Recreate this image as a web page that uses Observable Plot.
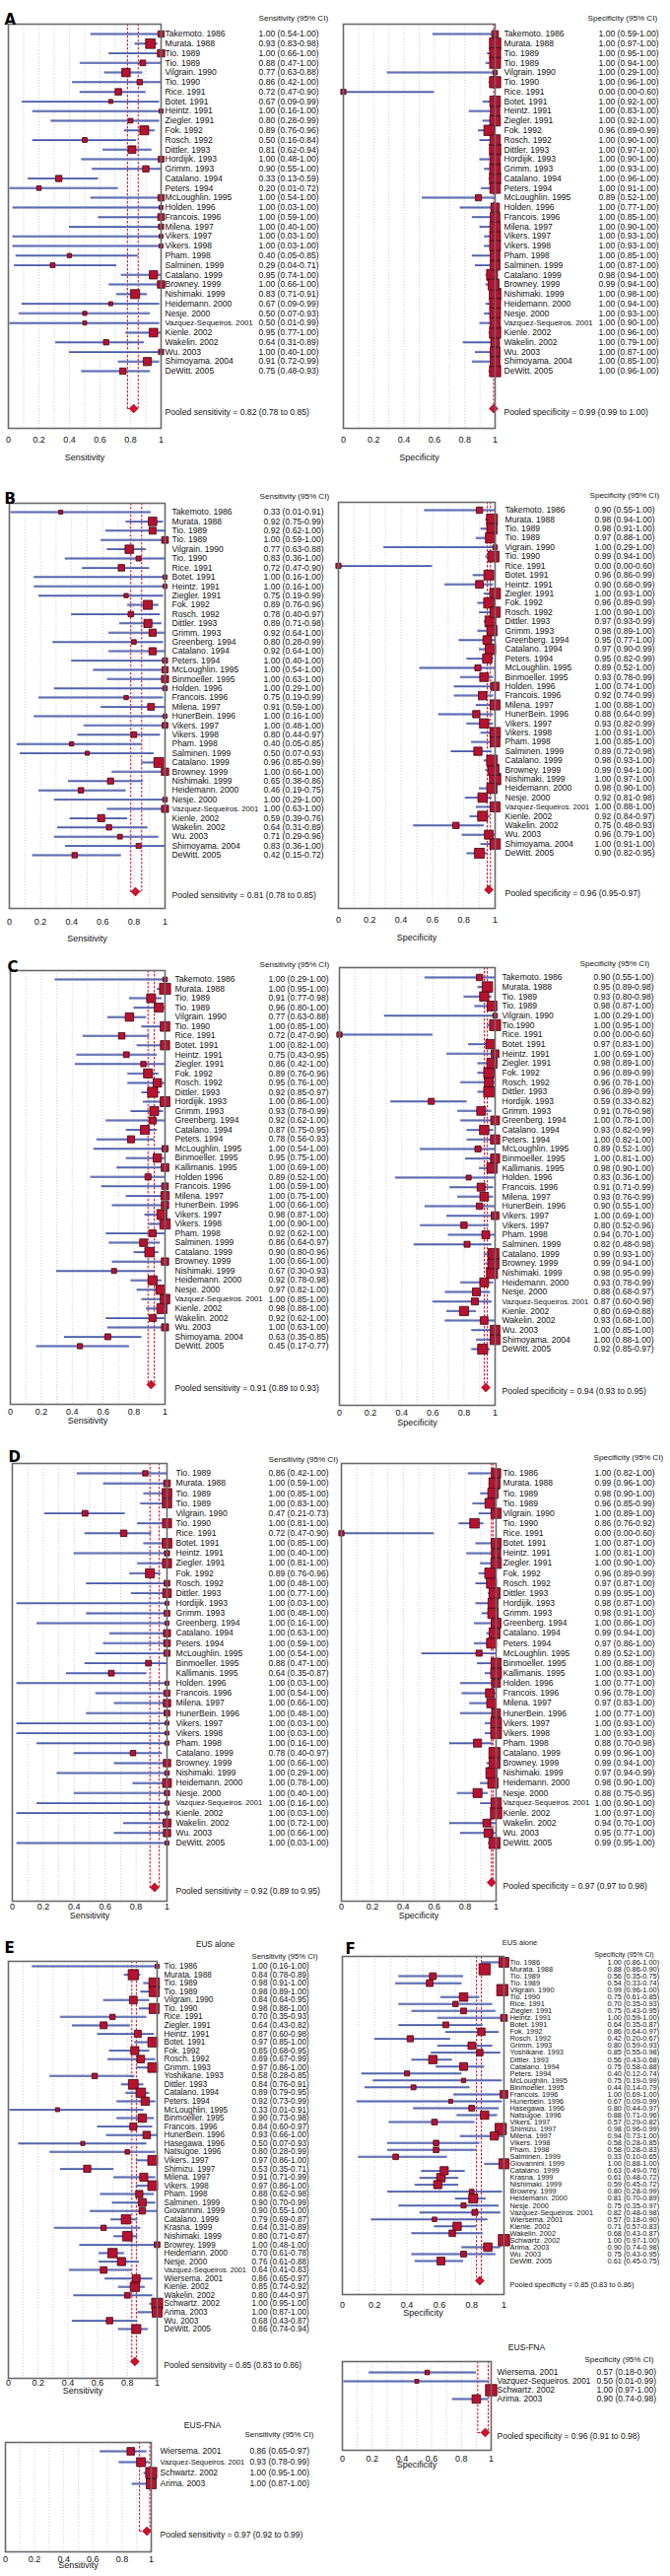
<!DOCTYPE html>
<html><head><meta charset="utf-8">
<script src="https://cdn.jsdelivr.net/npm/d3@7"></script>
<script src="https://cdn.jsdelivr.net/npm/@observablehq/plot@0.6"></script>
<style>
body{margin:0;background:#fff;}
#root{position:relative;width:680px;height:2613px;background:#fff;overflow:hidden;}
#root svg{position:absolute;overflow:visible;}
</style></head><body><div id="root"></div>
<script>
// ---------- DATA ----------
const namesA = ["Takemoto. 1986","Murata. 1988","Tio. 1989","Tio. 1989","Vilgrain. 1990","Tio. 1990","Rice. 1991","Botet. 1991","Heintz. 1991","Ziegler. 1991","Fok. 1992","Rosch. 1992","Dittler. 1993","Hordijik. 1993","Grimm. 1993","Catalano. 1994","Peters. 1994","McLoughlin. 1995","Holden. 1996","Francois. 1996","Milena. 1997","Vikers. 1997","Vikers. 1998","Pham. 1998","Salminen. 1999","Catalano. 1999","Browney. 1999","Nishimaki. 1999","Heidemann. 2000","Nesje. 2000","Vazquez-Sequeiros. 2001","Kienle. 2002","Wakelin. 2002","Wu. 2003","Shimoyama. 2004","DeWitt. 2005"];
const sensA = [[1.00,0.54,1.00],[0.93,0.83,0.98],[1.00,0.66,1.00],[0.88,0.47,1.00],[0.77,0.63,0.88],[0.86,0.42,1.00],[0.72,0.47,0.90],[0.67,0.09,0.99],[1.00,0.16,1.00],[0.80,0.28,0.99],[0.89,0.76,0.96],[0.50,0.16,0.84],[0.81,0.62,0.94],[1.00,0.48,1.00],[0.90,0.55,1.00],[0.33,0.13,0.59],[0.20,0.01,0.72],[1.00,0.54,1.00],[1.00,0.03,1.00],[1.00,0.59,1.00],[1.00,0.40,1.00],[1.00,0.03,1.00],[1.00,0.03,1.00],[0.40,0.05,0.85],[0.29,0.04,0.71],[0.95,0.74,1.00],[1.00,0.66,1.00],[0.83,0.71,0.91],[0.67,0.09,0.99],[0.50,0.07,0.93],[0.50,0.01,0.99],[0.95,0.77,1.00],[0.64,0.31,0.89],[1.00,0.40,1.00],[0.91,0.72,0.99],[0.75,0.48,0.93]];
const specA = [[1.00,0.59,1.00],[1.00,0.97,1.00],[1.00,0.95,1.00],[1.00,0.94,1.00],[1.00,0.29,1.00],[1.00,0.96,1.00],[0.00,0.00,0.60],[1.00,0.92,1.00],[1.00,0.83,1.00],[1.00,0.92,1.00],[0.96,0.89,0.99],[1.00,0.90,1.00],[1.00,0.97,1.00],[1.00,0.90,1.00],[1.00,0.93,1.00],[1.00,0.96,1.00],[1.00,0.91,1.00],[0.89,0.52,1.00],[1.00,0.77,1.00],[1.00,0.85,1.00],[1.00,0.90,1.00],[1.00,0.93,1.00],[1.00,0.93,1.00],[1.00,0.85,1.00],[1.00,0.87,1.00],[0.98,0.94,1.00],[0.99,0.94,1.00],[1.00,0.98,1.00],[1.00,0.94,1.00],[1.00,0.93,1.00],[1.00,0.90,1.00],[1.00,0.96,1.00],[1.00,0.79,1.00],[1.00,0.87,1.00],[1.00,0.85,1.00],[1.00,0.96,1.00]];
const pooledA = {sens:[0.82,0.78,0.85], spec:[0.99,0.99,1.00]};

const namesBL = ["Takemoto. 1986","Murata. 1988","Tio. 1989","Tio. 1989","Vilgrain. 1990","Tio. 1990","Rice. 1991","Botet. 1991","Heintz. 1991","Ziegler. 1991","Fok. 1992","Rosch. 1992","Dittler. 1993","Grimm. 1993","Greenberg. 1994","Catalano. 1994","Peters. 1994","McLoughlin. 1995","Binmoeller. 1995","Holden. 1996","Francois. 1996","Milena. 1997","HunerBein. 1996","Vikers. 1997","Vikers. 1998","Pham. 1998","Salminen. 1999","Catalano. 1999","Browney. 1999","Nishimaki. 1999","Heidemann. 2000","Nesje. 2000","Vazquez-Sequeiros. 2001","Kienle. 2002","Wakelin. 2002","Wu. 2003","Shimoyama. 2004","DeWitt. 2005"];
const namesBR = namesBL.map((d,i)=> i===4 ? "Vigrain. 1990" : d);
const sensB = [[0.33,0.01,0.91],[0.92,0.75,0.99],[0.92,0.62,1.00],[1.00,0.59,1.00],[0.77,0.63,0.88],[0.83,0.36,1.00],[0.72,0.47,0.90],[1.00,0.16,1.00],[1.00,0.16,1.00],[0.75,0.19,0.99],[0.89,0.76,0.96],[0.78,0.40,0.97],[0.89,0.71,0.98],[0.92,0.64,1.00],[0.80,0.28,0.99],[0.92,0.64,1.00],[1.00,0.40,1.00],[1.00,0.54,1.00],[1.00,0.63,1.00],[1.00,0.29,1.00],[0.75,0.19,0.99],[0.91,0.59,1.00],[1.00,0.16,1.00],[1.00,0.48,1.00],[0.80,0.44,0.97],[0.40,0.05,0.85],[0.50,0.07,0.93],[0.96,0.85,0.99],[1.00,0.66,1.00],[0.65,0.38,0.86],[0.46,0.19,0.75],[1.00,0.29,1.00],[1.00,0.63,1.00],[0.59,0.39,0.76],[0.64,0.31,0.89],[0.71,0.29,0.96],[0.83,0.36,1.00],[0.42,0.15,0.72]];
const specB = [[0.90,0.55,1.00],[0.98,0.94,1.00],[0.98,0.91,1.00],[0.97,0.88,1.00],[1.00,0.29,1.00],[0.99,0.94,1.00],[0.00,0.00,0.60],[0.96,0.86,0.99],[0.90,0.68,0.99],[1.00,0.93,1.00],[0.96,0.89,0.99],[1.00,0.90,1.00],[0.97,0.93,0.99],[0.98,0.89,1.00],[0.95,0.77,1.00],[0.97,0.90,0.99],[0.95,0.82,0.99],[0.89,0.52,1.00],[0.93,0.78,0.99],[1.00,0.74,1.00],[0.92,0.74,0.99],[1.00,0.88,1.00],[0.88,0.64,0.99],[0.93,0.82,0.99],[1.00,0.91,1.00],[1.00,0.85,1.00],[0.89,0.72,0.98],[0.98,0.93,1.00],[0.99,0.94,1.00],[1.00,0.97,1.00],[0.98,0.90,1.00],[0.92,0.81,0.98],[1.00,0.88,1.00],[0.92,0.84,0.97],[0.75,0.48,0.93],[0.96,0.79,1.00],[1.00,0.91,1.00],[0.90,0.82,0.95]];
const pooledB = {sens:[0.81,0.78,0.85], spec:[0.96,0.95,0.97]};

const namesCL = ["Takemoto. 1986","Murata. 1988","Tio. 1989","Tio. 1989","Vilgrain. 1990","Tio. 1990","Rice. 1991","Botet. 1991","Heintz. 1991","Ziegler. 1991","Fok. 1992","Rosch. 1992","Dittler. 1993","Hordijik. 1993","Grimm. 1993","Greenberg. 1994","Catalano. 1994","Peters. 1994","McLoughlin. 1995","Binmoeller. 1995","Kallimanis. 1995","Holden 1996","Francois. 1996","Milena. 1997","HunerBein. 1996","Vikers. 1997","Vikers. 1998","Pham. 1998","Salminen. 1999","Catalano. 1999","Browney. 1999","Nishimaki. 1999","Heidemann. 2000","Nesje. 2000","Vazquez-Sequeiros. 2001","Kienle. 2002","Wakelin. 2002","Wu. 2003","Shimoyama. 2004","DeWitt. 2005"];
const namesCR = namesCL.map((d,i)=> i===5 ? "Tio.1990" : i===21 ? "Holden. 1996" : i===26 ? "Vikers. 1997" : d);
const sensC = [[1.00,0.29,1.00],[1.00,0.95,1.00],[0.91,0.77,0.98],[0.96,0.80,1.00],[0.77,0.63,0.88],[1.00,0.85,1.00],[0.72,0.47,0.90],[1.00,0.82,1.00],[0.75,0.43,0.95],[0.86,0.42,1.00],[0.89,0.76,0.96],[0.95,0.76,1.00],[0.92,0.85,0.97],[1.00,0.86,1.00],[0.93,0.78,0.99],[0.92,0.62,1.00],[0.87,0.75,0.95],[0.78,0.56,0.93],[1.00,0.54,1.00],[0.95,0.75,1.00],[1.00,0.69,1.00],[0.89,0.52,1.00],[1.00,0.59,1.00],[1.00,0.75,1.00],[1.00,0.66,1.00],[0.98,0.87,1.00],[1.00,0.90,1.00],[0.92,0.62,1.00],[0.86,0.64,0.97],[0.90,0.80,0.96],[1.00,0.66,1.00],[0.67,0.30,0.93],[0.92,0.78,0.98],[0.97,0.82,1.00],[1.00,0.85,1.00],[0.98,0.88,1.00],[0.92,0.62,1.00],[1.00,0.63,1.00],[0.63,0.35,0.85],[0.45,0.17,0.77]];
const specC = [[0.90,0.55,1.00],[0.95,0.89,0.98],[0.93,0.80,0.98],[0.98,0.87,1.00],[1.00,0.29,1.00],[1.00,0.95,1.00],[0.00,0.00,0.60],[0.97,0.83,1.00],[1.00,0.69,1.00],[0.98,0.89,1.00],[0.96,0.89,0.99],[0.96,0.78,1.00],[0.96,0.89,0.99],[0.59,0.33,0.82],[0.91,0.76,0.98],[1.00,0.78,1.00],[0.93,0.82,0.99],[1.00,0.82,1.00],[0.89,0.52,1.00],[1.00,0.81,1.00],[0.98,0.90,1.00],[0.83,0.36,1.00],[0.91,0.71,0.99],[0.93,0.76,0.99],[0.90,0.55,1.00],[1.00,0.69,1.00],[0.80,0.52,0.96],[0.94,0.70,1.00],[0.82,0.48,0.98],[0.99,0.93,1.00],[0.99,0.94,1.00],[0.98,0.95,0.99],[0.93,0.78,0.99],[0.88,0.68,0.97],[0.87,0.60,0.98],[0.80,0.69,0.88],[0.93,0.68,1.00],[1.00,0.85,1.00],[1.00,0.88,1.00],[0.92,0.85,0.97]];
const pooledC = {sens:[0.91,0.89,0.93], spec:[0.94,0.93,0.95]};

const namesDL = ["Tio. 1989","Murata. 1988","Tio. 1989","Tio. 1989","Vilgrain. 1990","Tio. 1990","Rice. 1991","Botet. 1991","Heintz. 1991","Ziegler. 1991","Fok. 1992","Rosch. 1992","Dittler. 1993","Hordijik. 1993","Grimm. 1993","Greenberg. 1994","Catalano. 1994","Peters. 1994","McLoughlin. 1995","Binmoeller. 1995","Kallimanis. 1995","Holden. 1996","Francois. 1996","Milena. 1997","HunerBein. 1996","Vikers. 1997","Vikers. 1998","Pham. 1998","Catalano. 1999","Browney. 1999","Nishimaki. 1999","Heidemann. 2000","Nesje. 2000","Vazquez-Sequeiros. 2001","Kienle. 2002","Wakelin. 2002","Wu. 2003","DeWitt. 2005"];
const namesDR = namesDL.map((d,i)=> i===0 ? "Tio. 1986" : d);
const sensD = [[0.86,0.42,1.00],[1.00,0.59,1.00],[1.00,0.85,1.00],[1.00,0.83,1.00],[0.47,0.21,0.73],[1.00,0.81,1.00],[0.72,0.47,0.90],[1.00,0.85,1.00],[1.00,0.40,1.00],[1.00,0.81,1.00],[0.89,0.76,0.96],[1.00,0.48,1.00],[1.00,0.77,1.00],[1.00,0.03,1.00],[1.00,0.48,1.00],[1.00,0.16,1.00],[1.00,0.63,1.00],[1.00,0.59,1.00],[1.00,0.54,1.00],[0.88,0.47,1.00],[0.64,0.35,0.87],[1.00,0.03,1.00],[1.00,0.54,1.00],[1.00,0.66,1.00],[1.00,0.48,1.00],[1.00,0.03,1.00],[1.00,0.03,1.00],[1.00,0.16,1.00],[0.78,0.40,0.97],[1.00,0.66,1.00],[1.00,0.29,1.00],[1.00,0.78,1.00],[1.00,0.40,1.00],[1.00,0.16,1.00],[1.00,0.03,1.00],[1.00,0.72,1.00],[1.00,0.66,1.00],[1.00,0.03,1.00]];
const specD = [[1.00,0.82,1.00],[0.99,0.96,1.00],[0.98,0.90,1.00],[0.96,0.85,0.99],[1.00,0.89,1.00],[0.86,0.76,0.92],[0.00,0.00,0.60],[1.00,0.87,1.00],[1.00,0.81,1.00],[1.00,0.90,1.00],[0.96,0.89,0.99],[0.97,0.87,1.00],[0.99,0.95,1.00],[0.98,0.87,1.00],[0.98,0.91,1.00],[1.00,0.86,1.00],[0.99,0.94,1.00],[0.97,0.86,1.00],[0.89,0.52,1.00],[1.00,0.88,1.00],[1.00,0.93,1.00],[1.00,0.77,1.00],[0.96,0.78,1.00],[0.97,0.83,1.00],[1.00,0.77,1.00],[1.00,0.93,1.00],[1.00,0.93,1.00],[0.88,0.70,0.98],[0.99,0.96,1.00],[0.99,0.94,1.00],[0.97,0.94,0.99],[0.98,0.90,1.00],[0.88,0.75,0.95],[1.00,0.90,1.00],[1.00,0.97,1.00],[0.94,0.70,1.00],[0.95,0.77,1.00],[0.99,0.95,1.00]];
const pooledD = {sens:[0.92,0.89,0.95], spec:[0.97,0.97,0.98]};

const namesE = ["Tio. 1986","Murata. 1988","Tio. 1989","Tio. 1989","Vilgrain. 1990","Tio. 1990","Rice. 1991","Ziegler. 1991","Heintz. 1991","Botet. 1991","Fok. 1992","Rosch. 1992","Grimm. 1993","Yoshikane. 1993","Dittler. 1993","Catalano. 1994","Peters. 1994","McLoughlin. 1995","Binmoeller. 1995","Francois. 1996","HunerBein. 1996","Hasegawa. 1996","Natsugoe. 1996","Vikers. 1997","Shimizu. 1997","Milena. 1997","Vikers. 1998","Pham. 1998","Salminen. 1999","Giovannini. 1999","Catalano. 1999","Krasna. 1999","Nishimaki. 1999","Browrey. 1999","Heidemann. 2000","Nesje. 2000","Vazquez-Sequeiros. 2001","Wiersema. 2001","Kienle. 2002","Wakelin. 2002","Schwartz. 2002","Arima. 2003","Wu. 2003","DeWitt. 2005"];
const namesF = namesE.map((d,i)=> i===20 ? "Hunerbein. 1996" : d);
const sensEUS = [[1.00,0.16,1.00],[0.84,0.78,0.89],[0.98,0.91,1.00],[0.98,0.89,1.00],[0.84,0.64,0.95],[0.98,0.88,1.00],[0.70,0.35,0.93],[0.64,0.43,0.82],[0.87,0.60,0.98],[0.97,0.85,1.00],[0.85,0.68,0.95],[0.89,0.67,0.99],[0.97,0.86,1.00],[0.58,0.28,0.85],[0.84,0.76,0.91],[0.89,0.79,0.95],[0.92,0.73,0.99],[0.33,0.01,0.91],[0.90,0.73,0.98],[0.84,0.60,0.97],[0.93,0.66,1.00],[0.50,0.07,0.93],[0.80,0.28,0.99],[0.97,0.86,1.00],[0.53,0.35,0.71],[0.91,0.71,0.99],[0.97,0.86,1.00],[0.88,0.62,0.98],[0.90,0.70,0.99],[0.90,0.55,1.00],[0.79,0.69,0.87],[0.64,0.31,0.89],[0.80,0.71,0.87],[1.00,0.48,1.00],[0.70,0.61,0.78],[0.76,0.61,0.88],[0.64,0.41,0.83],[0.86,0.65,0.97],[0.85,0.74,0.92],[0.80,0.44,0.97],[1.00,0.95,1.00],[1.00,0.87,1.00],[0.68,0.43,0.87],[0.86,0.74,0.94]];
const specEUS = [[1.00,0.86,1.00],[0.88,0.86,0.90],[0.56,0.35,0.75],[0.54,0.33,0.74],[0.99,0.96,1.00],[0.75,0.61,0.85],[0.70,0.35,0.93],[0.75,0.43,0.95],[1.00,0.59,1.00],[0.64,0.35,0.87],[0.86,0.64,0.97],[0.42,0.20,0.67],[0.80,0.59,0.93],[0.85,0.55,0.98],[0.56,0.43,0.68],[0.75,0.58,0.88],[0.40,0.12,0.74],[0.75,0.19,0.99],[0.44,0.14,0.79],[1.00,0.69,1.00],[0.67,0.09,0.99],[0.80,0.44,0.97],[0.88,0.71,0.96],[0.57,0.29,0.82],[0.98,0.96,0.99],[0.94,0.73,1.00],[0.58,0.28,0.85],[0.58,0.28,0.83],[0.33,0.10,0.65],[1.00,0.88,1.00],[0.63,0.49,0.76],[0.61,0.48,0.72],[0.59,0.45,0.72],[0.80,0.28,0.99],[0.81,0.70,0.89],[0.75,0.35,0.97],[0.82,0.48,0.98],[0.57,0.18,0.90],[0.71,0.57,0.83],[0.68,0.43,0.87],[1.00,0.97,1.00],[0.90,0.74,0.98],[0.75,0.43,0.95],[0.61,0.45,0.75]];
const pooledEUS = {sens:[0.85,0.83,0.86], spec:[0.85,0.83,0.86]};

const namesFNA = ["Wiersema. 2001","Vazquez-Sequeiros. 2001","Schwartz. 2002","Arima. 2003"];
const sensFNA = [[0.86,0.65,0.97],[0.93,0.78,0.99],[1.00,0.95,1.00],[1.00,0.87,1.00]];
const specFNA = [[0.57,0.18,0.90],[0.50,0.01,0.99],[1.00,0.97,1.00],[0.90,0.74,0.98]];
const pooledFNA = {sens:[0.97,0.92,0.99], spec:[0.96,0.91,0.98]};

const xTicks = [0, 0.2, 0.4, 0.6, 0.8, 1];
const gridTicks = [0.1,0.2,0.3,0.4,0.5,0.6,0.7,0.8,0.9];

// ---------- DRAW ----------
const FONT = '"Liberation Sans",Arial,sans-serif';
const f2 = v => v.toFixed(2);
const ctx = document.createElement("canvas").getContext("2d");
function textWidth(s, size) { ctx.font = `${size}px "Liberation Sans", Arial, sans-serif`; return ctx.measureText(s).width; }

function forest(c) {
  const fs = c.fs;
  const gap = c.valueX - c.labelX - 5;
  const rows = c.names.map((n,i)=>{
    const w = textWidth(n, fs);
    return {i, name:n, est:c.vals[i][0], lo:c.vals[i][1], hi:c.vals[i][2],
            lfs: w > gap ? Math.floor(fs * gap / w * 10) / 10 : fs};
  });
  const n = rows.length;
  const sp = (c.last - c.first)/(n-1);
  const topY = Math.min(c.headerY, c.titleY ?? 1e9, c.letterY ?? 1e9) - 12;
  const botY = c.axisY + 8;
  const W = 340, height = botY - topY;
  const mT = c.frameTop - topY, mB = botY - c.frameBot;
  const mL = c.frameL - c.left, mR = c.left + W - c.frameR;
  const d0 = -(c.first - c.frameTop)/sp, d1 = (c.frameBot - c.first)/sp;
  const p = (c.pooledY - c.first)/sp;
  const [pe, pl, ph] = c.pooled;
  const side = d => 4 + 8*Math.pow(1 - (d.hi - d.lo), 2);
  const pooledText = `Pooled ${c.kind} = ${f2(pe)} (${f2(pl)}${c.sep}${f2(ph)})`;
  const marks = [
    Plot.ruleX(gridTicks, {stroke:"#c4c4c4", strokeDasharray:"1.2,1.8", strokeWidth:0.8}),
    Plot.ruleX([pl, ph], {y1: ()=>d0, y2: ()=>p, stroke:"#e3001b", strokeDasharray:"2.5,1.5", strokeWidth:1}),
    Plot.ruleY([p], {x1: ()=>pl, x2: ()=>ph, stroke:"#e3001b", strokeDasharray:"2.5,1.5", strokeWidth:1}),
    Plot.ruleY(rows, {y:"i", x1:"lo", x2:"hi", stroke:"#4357a6", strokeWidth:2}),
    Plot.ruleY(rows, {y:"i", x1:"lo", x2:"hi", stroke:"#93a0d4", strokeWidth:0.6, dy:-0.4}),
    Plot.dot(rows, {x:"est", y:"i", symbol:"square", r: d => side(d)/Math.sqrt(Math.PI), fill:"#b8122f", stroke:"#3c0915", strokeWidth:0.8}),
    Plot.dot([c.pooled], {x: d=>d[0], y: ()=>p, symbol:"diamond2", r:4, fill:"#d0102c", stroke:"#8a0018", strokeWidth:0.6}),
    Plot.frame({stroke:"#6a6a6a", strokeWidth:1.6}),
    Plot.text(rows, {y:"i", text:"name", frameAnchor:"right", dx: c.labelX - c.frameR, textAnchor:"start", fontSize: "lfs", fill:"#111"}),
    Plot.text(rows, {y:"i", text: d => `${f2(d.est)} (${f2(d.lo)}-${f2(d.hi)})`, frameAnchor:"right", dx: c.valueX - c.frameR, textAnchor:"start", fontSize: fs, fill:"#111", ariaLabel:"study-values"}),
    Plot.text([pooledText], {y: ()=>p, frameAnchor:"right", dx: c.labelX - c.frameR, dy: 4, textAnchor:"start", fontSize: fs, fill:"#111"}),
    Plot.text([c.header], {frameAnchor:"top-right", dx: c.headerX - c.frameR, dy: c.headerY - c.frameTop, textAnchor:"start", fontSize: fs - 0.5, fill:"#111"}),
    Plot.axisX({ticks: xTicks, tickSize: 0, tickPadding: c.tickY - c.frameBot - 4, tickFormat: d => String(d), fontSize: 9, label: null, fill:"#111"}),
    Plot.text([c.axisLabel], {x: () => 0.5, frameAnchor:"bottom", dy: c.axisY - c.frameBot, fontSize: 9, fill:"#111"})
  ];
  if (c.letter) marks.push(Plot.text([c.letter], {frameAnchor:"top-left", dx: c.letterX - c.frameL, dy: c.letterY - c.frameTop, textAnchor:"start", fontSize: 15, fontWeight: 900, fontFamily: '"DejaVu Sans",sans-serif', fill:"#000"}));
  if (c.title) marks.push(Plot.text([c.title], {frameAnchor:"top-left", dx: c.titleX - c.frameL, dy: c.titleY - c.frameTop, textAnchor:"middle", fontSize: fs, fill:"#111"}));
  const svg = Plot.plot({
    width: W, height,
    marginTop: mT, marginBottom: mB, marginLeft: mL, marginRight: mR,
    x: {domain: [0, 1]},
    y: {domain: [d0, d1], range: [mT, height - mB], axis: null},
    r: {type: "identity"},
    style: {fontFamily: FONT, fontSize: fs + "px", background: "transparent", overflow: "visible"},
    marks
  });
  svg.style.position = "absolute";
  svg.style.left = c.left + "px";
  svg.style.top = topY + "px";
  document.getElementById("root").appendChild(svg);
  // the value column is drawn slightly condensed, like the reference
  svg.querySelectorAll('g[aria-label="study-values"] text').forEach(t => {
    const w = t.getComputedTextLength();
    if (!w) return;
    t.setAttribute("textLength", (w * 0.9).toFixed(2));
    t.setAttribute("lengthAdjust", "spacingAndGlyphs");
  });
}

const SENS = {kind:"sensitivity", header:"Sensitivity (95% CI)", axisLabel:"Sensitivity", left:0};
const SPEC = {kind:"specificity", header:"Specificity (95% CI)", axisLabel:"Specificity", left:340};

const panels = [
  {...SENS, names:namesA, vals:sensA, pooled:pooledA.sens, sep:" to ", fs:8.6,
   frameL:8, frameR:163, frameTop:24, frameBot:434, first:34, last:376, pooledY:414,
   labelX:167, valueX:262, headerX:262, headerY:15, tickY:446, axisY:466, letter:"A", letterX:4, letterY:14},
  {...SPEC, names:namesA, vals:specA, pooled:pooledA.spec, sep:" to ", fs:8.6,
   frameL:348, frameR:502, frameTop:24, frameBot:434, first:34, last:376, pooledY:414,
   labelX:511, valueX:607, headerX:596, headerY:15, tickY:446, axisY:466},
  {...SENS, names:namesBL, vals:sensB, pooled:pooledB.sens, sep:" to ", fs:8.6,
   frameL:9, frameR:167, frameTop:510, frameBot:921, first:519, last:867, pooledY:904,
   labelX:174, valueX:267, headerX:263, headerY:500, tickY:935, axisY:954, letter:"B", letterX:4, letterY:500},
  {...SPEC, names:namesBR, vals:specB, pooled:pooledB.spec, sep:"-", fs:8.6,
   frameL:343, frameR:502, frameTop:509, frameBot:921, first:517, last:865, pooledY:902,
   labelX:512, valueX:603, headerX:598, headerY:499, tickY:933, axisY:953},
  {...SENS, names:namesCL, vals:sensC, pooled:pooledC.sens, sep:" to ", fs:8.6,
   frameL:10, frameR:167, frameTop:984, frameBot:1424, first:993, last:1365, pooledY:1404,
   labelX:177, valueX:272, headerX:263, headerY:975, tickY:1432, axisY:1443, letter:"C", letterX:7, letterY:975},
  {...SPEC, names:namesCR, vals:specC, pooled:pooledC.spec, sep:" to ", fs:8.6,
   frameL:344, frameR:502, frameTop:981, frameBot:1425, first:991, last:1368, pooledY:1407,
   labelX:509, valueX:602, headerX:588, headerY:974, tickY:1433, axisY:1445},
  {...SENS, names:namesDL, vals:sensD, pooled:pooledD.sens, sep:" to ", fs:8.6,
   frameL:12, frameR:169, frameTop:1484, frameBot:1928, first:1494, last:1869, pooledY:1914,
   labelX:178, valueX:272, headerX:272, headerY:1477, tickY:1934, axisY:1945, letter:"D", letterX:8, letterY:1472},
  {...SPEC, names:namesDR, vals:specD, pooled:pooledD.spec, sep:" to ", fs:8.6,
   frameL:346, frameR:503, frameTop:1484, frameBot:1928, first:1494, last:1869, pooledY:1909,
   labelX:510, valueX:603, headerX:602, headerY:1475, tickY:1934, axisY:1945},
  {...SENS, names:namesE, vals:sensEUS, pooled:pooledEUS.sens, sep:" to ", fs:8.2,
   frameL:8, frameR:159, frameTop:1989, frameBot:2412, first:1994, last:2362, pooledY:2395,
   labelX:166, valueX:255, headerX:255, headerY:1981, tickY:2417, axisY:2427,
   letter:"E", letterX:4, letterY:1970, title:"EUS alone", titleX:218, titleY:1969},
  {...SENS, names:namesFNA, vals:sensFNA, pooled:pooledFNA.sens, sep:" to ", fs:8.5,
   frameL:5, frameR:153, frameTop:2477, frameBot:2588, first:2486, last:2519, pooledY:2567,
   labelX:162, valueX:253, headerX:248, headerY:2466, tickY:2596, axisY:2604,
   title:"EUS-FNA", titleX:205, titleY:2456},
  {...SPEC, names:namesF, vals:specEUS, pooled:pooledEUS.spec, sep:" to ", fs:7.4,
   frameL:347, frameR:511, frameTop:1984, frameBot:2327, first:1990, last:2293, pooledY:2313,
   labelX:517, valueX:616, headerX:603, headerY:1980, tickY:2338, axisY:2348,
   letter:"F", letterX:350, letterY:1971, title:"EUS alone", titleX:527, titleY:1967},
  {...SPEC, names:namesFNA, vals:specFNA, pooled:pooledFNA.spec, sep:" to ", fs:8.5,
   frameL:347, frameR:498, frameTop:2395, frameBot:2485, first:2406, last:2433, pooledY:2467,
   labelX:504, valueX:605, headerX:593, headerY:2390, tickY:2494, axisY:2502,
   title:"EUS-FNA", titleX:534, titleY:2377}
];
panels.forEach(forest);
</script>
</body></html>
